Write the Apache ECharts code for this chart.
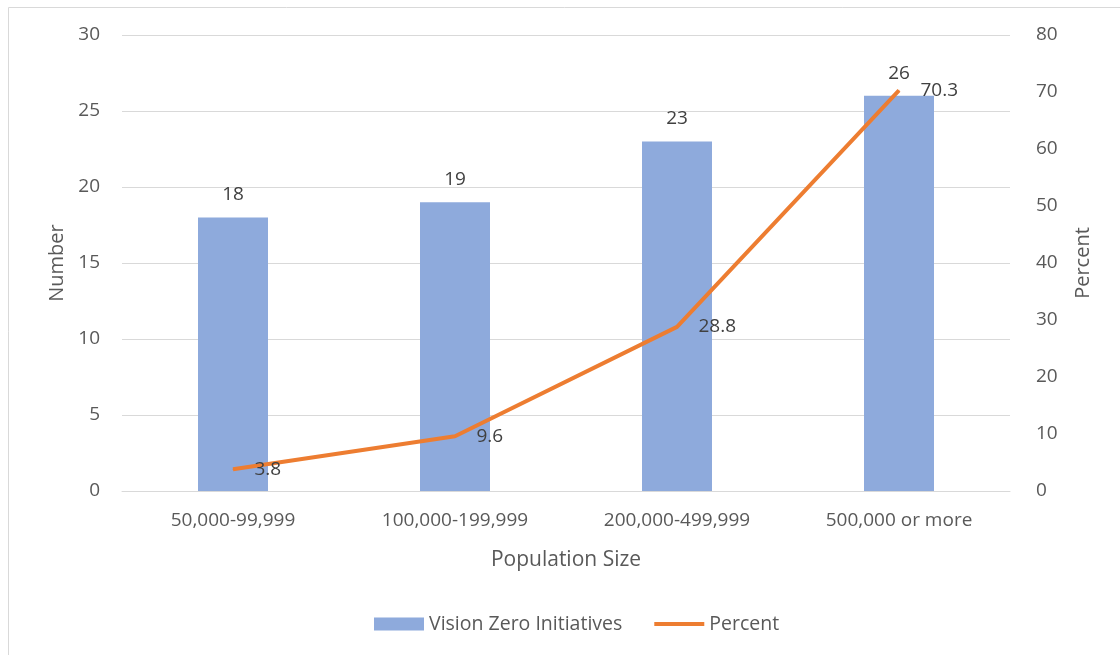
<!DOCTYPE html>
<html>
<head>
<meta charset="utf-8">
<script src="https://cdn.jsdelivr.net/npm/echarts@6/dist/echarts.min.js"></script>
<style>
  html, body { margin: 0; padding: 0; background: #fff; }
  #grafico { width: 1120px; height: 655px; }
</style>
</head>
<body>
<div id="grafico"></div>
<script>
// Dados do gráfico
const categorias = ["50,000-99,999", "100,000-199,999", "200,000-499,999", "500,000 or more"];
const iniciativas = [18, 19, 23, 26];
const percentual = [3.8, 9.6, 28.8, 70.3];

const fonte = '"Open Sans", "Noto Sans", sans-serif';
const cinza = '#595959';
const laranja = '#ed7d31';

const chart = echarts.init(document.getElementById('grafico'));
chart.setOption({
    animation: false,
    textStyle: { fontFamily: fonte },
    // moldura clara (só topo e lado esquerdo aparecem)
    graphic: [{
        type: 'rect',
        shape: { x: 8.5, y: 7.5, width: 1130, height: 660 },
        style: { fill: 'none', stroke: '#d9d9d9', lineWidth: 1 }
    }],
    grid: { left: 122, right: 110, top: 35, bottom: 164 },
    legend: {
        bottom: 16,
        left: 369,
        itemGap: 32,
        itemWidth: 50,
        itemHeight: 13,
        textStyle: { color: cinza, fontSize: 19.5, fontFamily: fonte },
        data: [
            { name: 'Vision Zero Initiatives', icon: 'rect' },
            { name: 'Percent', icon: 'path://M0,0 L52,0 L52,4 L0,4 Z', itemStyle: { color: laranja } }
        ]
    },
    xAxis: {
        type: 'category',
        data: categorias,
        name: 'Population Size',
        nameLocation: 'middle',
        nameGap: 59,
        nameTextStyle: { color: cinza, fontSize: 21 },
        axisLine: { lineStyle: { color: '#d9d9d9' } },
        axisTick: { show: false },
        axisLabel: { color: cinza, fontSize: 19, margin: 20 }
    },
    yAxis: [{
        type: 'value',
        min: 0, max: 30, interval: 5,
        name: 'Number',
        nameLocation: 'middle',
        nameGap: 53,
        nameTextStyle: { color: cinza, fontSize: 20 },
        axisLabel: { color: cinza, fontSize: 19, margin: 22 },
        splitLine: { lineStyle: { color: '#d9d9d9' } }
    }, {
        type: 'value',
        min: 0, max: 80, interval: 10,
        name: 'Percent',
        nameLocation: 'middle',
        nameGap: 63,
        nameRotate: 90,
        nameTextStyle: { color: cinza, fontSize: 20 },
        axisLabel: { color: cinza, fontSize: 19, margin: 26 },
        splitLine: { show: false }
    }],
    series: [{
        name: 'Vision Zero Initiatives',
        type: 'bar',
        data: iniciativas,
        barWidth: 70,
        itemStyle: { color: '#8eaadc' },
        label: { show: true, position: 'top', distance: 13, color: '#404040', fontSize: 19 }
    }, {
        name: 'Percent',
        type: 'line',
        yAxisIndex: 1,
        data: percentual,
        symbol: 'circle',
        symbolSize: 1,
        showSymbol: true,
        lineStyle: { color: laranja, width: 4 },
        itemStyle: { color: laranja },
        label: { show: true, position: 'right', distance: 21, color: '#404040', fontSize: 19 },
        z: 3
    }]
});
</script>
</body>
</html>
